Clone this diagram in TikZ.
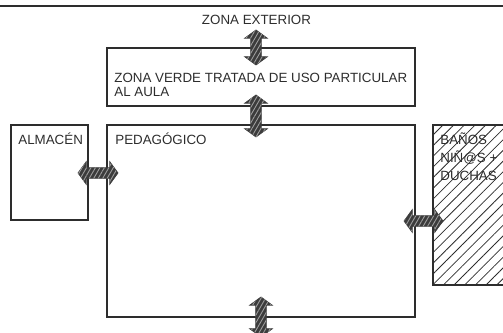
\documentclass[tikz,border=0pt]{standalone}
\usepackage{fontspec}
\setmainfont{Liberation Sans}
\usetikzlibrary{shapes.arrows,patterns.meta}
\definecolor{linegray}{RGB}{45,45,45}
\definecolor{arrowgray}{RGB}{60,60,60}
\tikzset{
  room/.style={
    draw=linegray,
    line width=0.6pt
  },
  room-hatch/.style={
    room,
    pattern={Lines[angle=45,distance=4.3pt,line width=0.45pt]},
    pattern color=linegray
  },
  room-label/.style={inner sep=0pt, text=linegray, align=left,
    font=\fontsize{7.6}{8.2}\selectfont},
  door-arrow/.style={shape=double arrow, draw=arrowgray, fill=arrowgray,
    line width=0.4pt, inner xsep=0pt, inner ysep=0.1cm, minimum width=0.44cm,
    double arrow head extend=0.12cm, double arrow tip angle=108,
    postaction={pattern={Lines[angle=60,distance=2.2pt,line width=0.5pt]},
      pattern color=gray!75}}
}

\begin{document}
\begin{tikzpicture}[x=0.02cm,y=-0.02cm]
  \useasboundingbox (0,0) rectangle (503,333);

  % Top border
  \draw[room] (0,6) -- (503,6);

  % Rooms
  \draw[room] (107,48) rectangle (415,106);
  \draw[room] (107,125) rectangle (415,317);
  \draw[room] (11,125) rectangle (88,220);
  \draw[room-hatch] (433,125) rectangle (515,285);

  \node[room-label, anchor=base] (exterior) at (256.5,25) {ZONA EXTERIOR};
  \node[room-label, anchor=base west] (verde) at (114,97)
    {ZONA VERDE TRATADA DE USO PARTICULAR\\AL AULA};
  \node[room-label, anchor=base west] (almacen) at (18,145) {ALMACÉN};
  \node[room-label, anchor=base west] (pedagogico) at (115,145) {PEDAGÓGICO};
  \node[room-label, anchor=base west, font=\fontsize{7.6}{10.5}\selectfont]
    (banos) at (440,181) {BAÑOS\\NIÑ@S +\\DUCHAS};

  % Passages
  \node[door-arrow, rotate=90, minimum height=0.7cm] (door-ext) at (256,47.5) {};
  \node[door-arrow, rotate=90, minimum height=0.84cm] (door-verde) at (256,116) {};
  \node[door-arrow, minimum height=0.8cm] (door-alm) at (98,173) {};
  \node[door-arrow, minimum height=0.78cm] (door-banos) at (423.5,221) {};
  \node[door-arrow, rotate=90, minimum height=0.8cm] (door-sur) at (261,317) {};

\end{tikzpicture}
\end{document}
